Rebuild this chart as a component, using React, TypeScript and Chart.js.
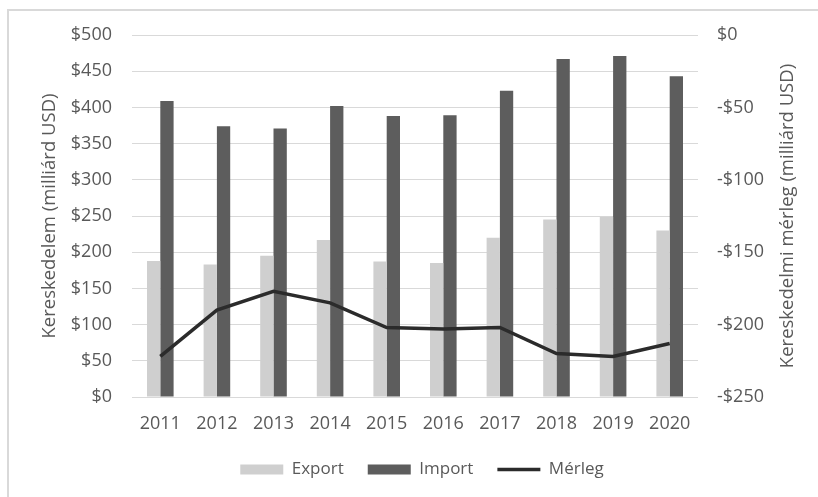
import React, { useEffect, useRef } from "react";
import { Chart, registerables } from "chart.js";

Chart.register(...registerables);

const years = ["2011", "2012", "2013", "2014", "2015", "2016", "2017", "2018", "2019", "2020"];
const exportValues = [188, 183, 195, 217, 187, 185, 220, 245, 249, 230];
const importValues = [409, 374, 371, 402, 388, 389, 423, 467, 471, 443];
const balanceValues = [-222, -190, -177, -185, -202, -203, -202, -220, -222, -213];

const leftTitle = "Kereskedelem (milliárd USD)";
const rightTitle = "Kereskedelmi mérleg (milliárd USD)";
const seriesNames = ["Export", "Import", "Mérleg"];

const FONT = "'Open Sans', 'Noto Sans', sans-serif";
const TEXT = "#595959";
const GRID = "#d9d9d9";
const TITLE_SIZE = 18.5;

const rightTitlePlugin = {
  id: "rightTitle",
  afterLayout(chart: any) {
    const lg = chart.legend;
    if (lg) {
      lg.left += 13;
      lg.right += 13;
    }
  },
  afterDraw(chart: any) {
    const { ctx, chartArea } = chart;
    ctx.save();
    ctx.font = `${TITLE_SIZE}px ${FONT}`;
    ctx.fillStyle = TEXT;
    ctx.textAlign = "center";
    ctx.textBaseline = "middle";
    ctx.translate(788, (chartArea.top + chartArea.bottom) / 2);
    ctx.rotate(-Math.PI / 2);
    ctx.fillText(rightTitle, 0, 0);
    ctx.restore();
  },
};

export default function App() {
  const ref = useRef<HTMLCanvasElement | null>(null);

  useEffect(() => {
    if (!ref.current) return;
    const chart = new Chart(ref.current, {
      type: "bar",
      data: {
        labels: years,
        datasets: [
          {
            type: "bar",
            label: seriesNames[0],
            data: exportValues,
            backgroundColor: "#cfcfcf",
            borderWidth: 0,
            yAxisID: "y",
            pointStyle: "rect",
            order: 2,
          },
          {
            type: "bar",
            label: seriesNames[1],
            data: importValues,
            backgroundColor: "#5d5d5d",
            borderWidth: 0,
            yAxisID: "y",
            pointStyle: "rect",
            order: 2,
          },
          {
            type: "line",
            label: seriesNames[2],
            data: balanceValues,
            borderColor: "#2b2b2b",
            backgroundColor: "#2b2b2b",
            borderWidth: 3.5,
            pointRadius: 0,
            pointStyle: "line",
            tension: 0,
            yAxisID: "y1",
            order: 1,
          } as any,
        ],
      },
      options: {
        animation: false,
        responsive: true,
        maintainAspectRatio: false,
        layout: { padding: { top: 35, left: 0, right: 0, bottom: 9 } },
        datasets: {
          bar: { categoryPercentage: 0.47, barPercentage: 1 },
        } as any,
        plugins: {
          title: { display: false },
          tooltip: { enabled: false },
          legend: {
            position: "bottom",
            maxHeight: 61,
            labels: {
              usePointStyle: true,
              pointStyleWidth: 43,
              boxHeight: 10,
              padding: 24,
              color: TEXT,
              font: { family: FONT, size: 17 },
              sort: (a: any, b: any) => a.datasetIndex - b.datasetIndex,
            },
          } as any,
        },
        scales: {
          x: {
            grid: { display: false, drawTicks: false },
            border: { display: false },
            ticks: { color: TEXT, font: { family: FONT, size: 18 }, padding: 16 },
            afterFit: (s: any) => {
              s.height = 40;
            },
          },
          y: {
            position: "left",
            min: 0,
            max: 500,
            ticks: {
              stepSize: 50,
              color: TEXT,
              font: { family: FONT, size: 18 },
              padding: 20,
              callback: (v: any) => "$" + v,
            },
            grid: { color: GRID, lineWidth: 1, drawTicks: false },
            border: { display: false },
            title: {
              display: true,
              text: leftTitle,
              color: TEXT,
              font: { family: FONT, size: TITLE_SIZE },
              padding: { top: 39, bottom: 0 },
            },
            afterFit: (s: any) => {
              s.width = 132;
            },
          },
          y1: {
            position: "right",
            min: -250,
            max: 0,
            ticks: {
              stepSize: 50,
              color: TEXT,
              font: { family: FONT, size: 18 },
              padding: 19,
              callback: (v: any) => (v < 0 ? "-$" + Math.abs(v) : "$" + v),
            },
            grid: { drawOnChartArea: false, drawTicks: false },
            border: { display: false },
            afterFit: (s: any) => {
              s.width = 120;
            },
          },
        },
      },
      plugins: [rightTitlePlugin],
    });
    return () => chart.destroy();
  }, []);

  return (
    <div
      style={{
        position: "absolute",
        left: 0,
        top: 0,
        width: 818,
        height: 497,
        overflow: "hidden",
        background: "#ffffff",
      }}
    >
      <div
        style={{
          position: "absolute",
          left: 7,
          top: 9,
          width: 830,
          height: 520,
          border: `2px solid ${GRID}`,
        }}
      />
      <canvas ref={ref} style={{ position: "absolute", left: 0, top: 0, width: 818, height: 497 }} />
    </div>
  );
}
